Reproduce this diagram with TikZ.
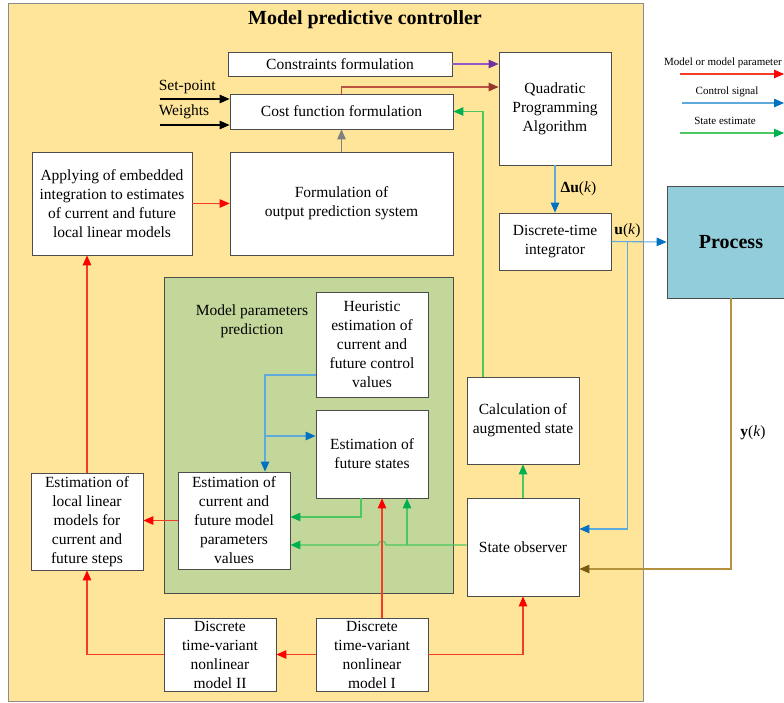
\documentclass[tikz,border=0pt]{standalone}
\usepackage{fontspec}
\setmainfont{Liberation Serif}
\usetikzlibrary{arrows.meta,positioning,calc}

\definecolor{mpcyellow}{RGB}{254,229,153}
\definecolor{mppgreen}{RGB}{196,215,155}
\definecolor{procblue}{RGB}{146,205,220}
\definecolor{sigred}{RGB}{255,0,0}
\definecolor{sigblue}{RGB}{0,112,192}
\definecolor{siggreen}{RGB}{0,176,80}
\definecolor{sigpurple}{RGB}{112,48,160}
\definecolor{sigbrown}{RGB}{150,55,45}
\definecolor{sigolive}{RGB}{120,90,20}
\definecolor{linered}{RGB}{245,60,40}
\definecolor{lineblue}{RGB}{95,170,220}
\definecolor{linegreen}{RGB}{75,200,95}
\definecolor{linebrown}{RGB}{185,80,65}
\definecolor{lineolive}{RGB}{180,145,60}
\definecolor{linepurple}{RGB}{150,90,200}

\begin{document}
\begin{tikzpicture}[x=1pt,y=-1pt,
    box/.style={draw=black!70,fill=white,line width=0.8pt,align=center,inner sep=1pt,
      font=\fontsize{15.5}{19}\selectfont},
    wh/.style 2 args={minimum width=#1pt,minimum height=#2pt},
    sig/.style 2 args={line width=1.1pt,draw=#1,-{Triangle[length=10pt,width=8.5pt,color=#2]}},
    red/.style={sig={linered}{sigred}},
    blue/.style={sig={lineblue}{sigblue}},
    green/.style={sig={linegreen}{siggreen}},
    lbl/.style={font=\fontsize{15.5}{19}\selectfont,inner sep=1pt,text=black},
    legend/.style={font=\fontsize{11}{13}\selectfont,inner sep=1pt}]
    \useasboundingbox (0,0) rectangle (784,702);

    % controller frame and prediction panel
    \filldraw[fill=mpcyellow,draw=black!45] (8,3) rectangle (643,701);
    \filldraw[fill=mppgreen,draw=black!70] (164,277) rectangle (453,593);
    \node[font=\fontsize{20}{24}\selectfont\bfseries] (title) at (365,20) {Model predictive controller};
    \node[lbl,align=center] (mpp) at (252,321) {Model parameters\\prediction};

    \node[box,wh={224}{24}] (cons) at (340,64) {Constraints formulation};
    \node[box,wh={223}{35}] (cost) at (341.5,111.5) {Cost function formulation};
    \node[box,wh={112}{113}] (qp) at (555,108.5) {Quadratic\\Programming\\Algorithm};
    \node[box,wh={112}{57}] (integ) at (555,241.5) {Discrete-time\\integrator};
    \node[box,fill=procblue,wh={128}{112},font=\fontsize{20}{24}\selectfont\bfseries] (proc) at (731,242) {Process};
    \node[box,wh={160}{103}] (apply) at (112,203.5) {Applying of embedded\\integration to estimates\\of current and future\\local linear models};
    \node[box,wh={223}{103}] (form) at (341.5,203.5) {Formulation of\\output prediction system};
    \node[box,wh={112}{105}] (heur) at (372,344.5) {Heuristic\\estimation of\\current and\\future control\\values};
    \node[box,wh={112}{88}] (fut) at (372,454) {Estimation of\\future states};
    \node[box,wh={112}{97}] (par) at (234,520.5) {Estimation of\\current and\\future model\\parameters\\values};
    \node[box,wh={112}{97}] (loc) at (87,521.5) {Estimation of\\local linear\\models for\\current and\\future steps};
    \node[box,wh={112}{73}] (mtwo) at (220,654.5) {Discrete\\time-variant\\nonlinear\\model II};
    \node[box,wh={112}{73}] (mone) at (372,654.5) {Discrete\\time-variant\\nonlinear\\model I};
    \node[box,wh={112}{87}] (calc) at (523,420.5) {Calculation of\\augmented state};
    \node[box,wh={112}{98}] (obs) at (523,547) {State observer};

    % inputs of the cost function
    \coordinate (spin) at ($(cost.west)+(-70,-12.5)$);
    \coordinate (wtin) at ($(cost.west)+(-70,13.5)$);
    \node[lbl,anchor=west] (sptxt) at ($(spin)+(-2,-12)$) {Set-point};
    \node[lbl,anchor=west] (wttxt) at ($(wtin)+(-2,-13)$) {Weights};
    \draw[sig={black}{black}] (spin) -- ($(cost.west)+(0,-12.5)$);
    \draw[sig={black}{black}] (wtin) -- ($(cost.west)+(0,13.5)$);

    % optimisation
    \draw[sig={linepurple}{sigpurple}] (cons.east) -- (cons.east -| qp.west);
    \draw[sig={linebrown}{sigbrown}] (cost.north) |- ($(qp.west)+(0,-21.5)$);
    \draw[sig={gray}{gray}] (form.north) -- (form.north |- cost.south);
    \draw[red] (apply.east) -- (form.west);
    \draw[red] (loc.north) -- (loc.north |- apply.south);
    \draw[blue] (qp.south) -- (integ.north)
        node[lbl,midway,right=4pt] (du) {\textbf{Δu}(\textit{k})};

    % control signal and measurement
    \coordinate (ubr) at ($(integ.east)!0.29!(proc.west)$);
    \draw[blue] (integ.east) -- (proc.west);
    \node[lbl] (uk) at ($(ubr)+(0,-11)$) {\textbf{u}(\textit{k})};
    \draw[blue] (ubr) |- ($(obs.east)+(0,-18)$);
    \draw[sig={lineolive}{sigolive}] (proc.south) |- ($(obs.east)+(0,22)$);
    \node[lbl] (yk) at (753,433) {\textbf{y}(\textit{k})};

    % state estimate
    \draw[green] (obs.north) -- (calc.south);
    \draw[green] ($(calc.north)+(-40,0)$) |- (cost.east);
    \coordinate (obsout) at ($(obs.west)+(0,-2)$);
    \coordinate (redx) at ($(mone.north)+(10,0)$);
    \coordinate (gbr) at ($(fut.south)+(35,0)$);
    \draw[green] (obsout) -- ($(redx |- obsout)+(4,0)$)
        arc[start angle=0,end angle=180,radius=4pt] -- (obsout -| par.east);
    \draw[green] (gbr |- obsout) -- (gbr);
    \draw[green] ($(fut.south)+(-11,0)$) |- ($(par.east)+(0,-3.5)$);

    % heuristic control values
    \coordinate (hout) at ($(heur.west)+(0,30.5)$);
    \coordinate (hdown) at ($(par.north)+(31,0)$);
    \draw[line width=1.1pt,lineblue] (hout) -| (hdown |- fut.west);
    \draw[blue] (hdown |- hout) -- (hdown);
    \draw[blue] ($(hdown |- fut.west)+(0,-18)$) -- ($(fut.west)+(0,-18)$);

    % nonlinear models
    \draw[red] (redx) -- (redx |- fut.south);
    \draw[red] (mone.west) -- (mtwo.east);
    \draw[red] (mone.east) -| (obs.south);
    \draw[red] (mtwo.west) -| (loc.south);
    \draw[red] (par.west) -- (par.west -| loc.east);

    % legend
    \node[legend,anchor=west] (lgm) at (663,63) {Model or model parameter};
    \node[legend] (lgc) at (727,92) {Control signal};
    \node[legend] (lgs) at (725,121) {State estimate};
    \coordinate (lgma) at (680,74);
    \coordinate (lgca) at (682,103);
    \coordinate (lgsa) at (680,133);
    \draw[red] (lgma) -- (lgma -| 784,0);
    \draw[blue] (lgca) -- (lgca -| 784,0);
    \draw[green] (lgsa) -- (lgsa -| 784,0);
\end{tikzpicture}
\end{document}
